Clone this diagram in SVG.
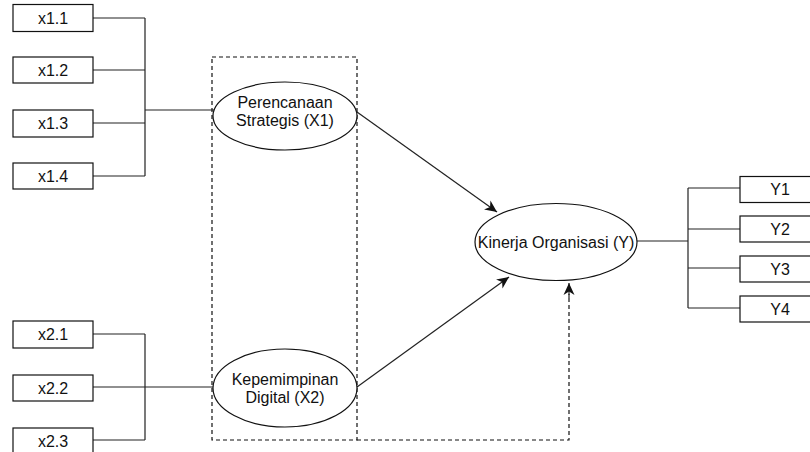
<svg xmlns="http://www.w3.org/2000/svg" width="810" height="452" viewBox="0 0 810 452">
<style>
.box{fill:#fff;stroke:#111;stroke-width:1.2}
.ell{fill:#fff;stroke:#111;stroke-width:1.2}
.t{font-family:"Liberation Sans",Arial,sans-serif;font-size:16px;fill:#111;text-anchor:middle}
.ln{fill:none;stroke:#222;stroke-width:1.2}
.dash{fill:none;stroke:#111;stroke-width:1.2;stroke-dasharray:4 3}
</style>
<defs>
<marker id="arr" markerWidth="14" markerHeight="14" viewBox="0 0 14 14" refX="12" refY="7" orient="auto" markerUnits="userSpaceOnUse">
<path d="M0,1.5 L12,7 L0,12.5 L3.5,7 Z" fill="#111"/>
</marker>
</defs>
<rect width="810" height="452" fill="#fff"/>
<g id="connectors">
<path class="ln" d="M93,18 H145 M93,70 H145 M93,123 H145 M93,176 H145 M145,18 V176 M145,110 H214"/>
<path class="ln" d="M93,334 H145 M93,387 H145 M93,440 H145 M145,334 V440 M145,387 H213"/>
<path class="ln" d="M637,241 H688 M688,188 V308 M688,188 H740 M688,229 H740 M688,268 H740 M688,308 H740"/>
<path class="ln" d="M357,112 L497,212" marker-end="url(#arr)"/>
<path class="ln" d="M357,387 L509,277" marker-end="url(#arr)"/>
<path class="dash" d="M357,440 H569 V294"/>
<path class="ln" d="M569,298 V283" marker-end="url(#arr)"/>
</g>
<g id="group-box">
<rect class="dash" x="212" y="57" width="145" height="383"/>
</g>
<g id="x1_1"><rect class="box" x="13" y="4.5" width="80" height="27"/><text class="t" x="53" y="23.5">x1.1</text></g>
<g id="x1_2"><rect class="box" x="13" y="57" width="80" height="26"/><text class="t" x="53" y="75.5">x1.2</text></g>
<g id="x1_3"><rect class="box" x="13" y="110" width="80" height="27"/><text class="t" x="53" y="128.5">x1.3</text></g>
<g id="x1_4"><rect class="box" x="13" y="163" width="80" height="26"/><text class="t" x="53" y="181.5">x1.4</text></g>
<g id="x2_1"><rect class="box" x="13" y="321" width="80" height="27"/><text class="t" x="53" y="339.5">x2.1</text></g>
<g id="x2_2"><rect class="box" x="13" y="375" width="80" height="26"/><text class="t" x="53" y="393.5">x2.2</text></g>
<g id="x2_3"><rect class="box" x="13" y="428" width="80" height="27"/><text class="t" x="53" y="446.5">x2.3</text></g>
<g id="X1"><ellipse class="ell" cx="285" cy="116" rx="72" ry="34"/><text class="t" x="285" y="108">Perencanaan</text><text class="t" x="285" y="126">Strategis (X1)</text></g>
<g id="X2"><ellipse class="ell" cx="285" cy="388" rx="72" ry="39"/><text class="t" x="285" y="385">Kepemimpinan</text><text class="t" x="285" y="403">Digital (X2)</text></g>
<g id="Y"><ellipse class="ell" cx="556" cy="242" rx="81" ry="38.5"/><text class="t" x="556" y="247.5">Kinerja Organisasi (Y)</text></g>
<g id="Y1"><rect class="box" x="740" y="176.5" width="80" height="26"/><text class="t" x="780" y="195">Y1</text></g>
<g id="Y2"><rect class="box" x="740" y="216" width="80" height="26"/><text class="t" x="780" y="234.5">Y2</text></g>
<g id="Y3"><rect class="box" x="740" y="256" width="80" height="26"/><text class="t" x="780" y="274.5">Y3</text></g>
<g id="Y4"><rect class="box" x="740" y="296" width="80" height="26"/><text class="t" x="780" y="314.5">Y4</text></g>
</svg>
